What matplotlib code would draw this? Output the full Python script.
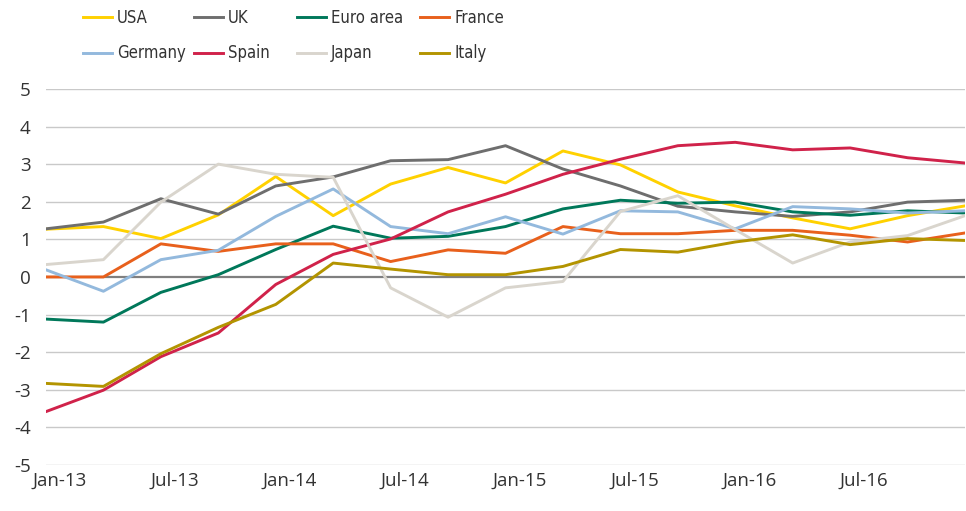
import numpy as np
import matplotlib
matplotlib.use("Agg")
from matplotlib import pyplot as plt
from matplotlib import transforms
from matplotlib import font_manager

plt.rcParams['font.family'] = ['Open Sans', 'DejaVu Sans']
plt.rcParams['axes.unicode_minus'] = False

# quarterly, Jan-13 .. Jan-17
quarters = ["Jan-13", "Apr-13", "Jul-13", "Oct-13", "Jan-14", "Apr-14", "Jul-14", "Oct-14",
            "Jan-15", "Apr-15", "Jul-15", "Oct-15", "Jan-16", "Apr-16", "Jul-16", "Oct-16", "Jan-17"]
tick_labels = ["Jan-13", "Jul-13", "Jan-14", "Jul-14", "Jan-15", "Jul-15", "Jan-16", "Jul-16"]

usa = [1.27, 1.34, 1.02, 1.65, 2.67, 1.63, 2.47, 2.91, 2.50, 3.35, 2.98, 2.26, 1.89, 1.57, 1.28, 1.63, 1.89]
uk = [1.28, 1.46, 2.08, 1.67, 2.42, 2.66, 3.09, 3.12, 3.49, 2.87, 2.42, 1.88, 1.73, 1.61, 1.73, 1.99, 2.04]
euro = [-1.12, -1.20, -0.41, 0.06, 0.73, 1.35, 1.03, 1.08, 1.34, 1.81, 2.04, 1.96, 1.99, 1.73, 1.64, 1.76, 1.70]
france = [0.0, 0.0, 0.88, 0.68, 0.88, 0.88, 0.41, 0.72, 0.63, 1.34, 1.15, 1.15, 1.24, 1.24, 1.11, 0.93, 1.17]
germany = [0.19, -0.38, 0.46, 0.71, 1.61, 2.34, 1.34, 1.15, 1.60, 1.14, 1.76, 1.73, 1.28, 1.87, 1.81, 1.70, 1.76]
spain = [-3.58, -3.01, -2.12, -1.49, -0.20, 0.60, 1.01, 1.73, 2.20, 2.73, 3.13, 3.49, 3.58, 3.38, 3.43, 3.17, 3.03]
japan = [0.33, 0.46, 1.99, 3.00, 2.73, 2.65, -0.29, -1.07, -0.29, -0.12, 1.74, 2.16, 1.26, 0.37, 0.93, 1.10, 1.63]
italy = [-2.83, -2.91, -2.04, -1.34, -0.73, 0.37, 0.21, 0.06, 0.06, 0.28, 0.73, 0.66, 0.93, 1.12, 0.86, 1.02, 0.97]

series = [("USA", usa, "#FFD100"), ("UK", uk, "#6E6E6E"), ("Euro area", euro, "#00785A"),
          ("France", france, "#E8601C"), ("Germany", germany, "#93B9DD"), ("Spain", spain, "#D0224A"),
          ("Japan", japan, "#D9D5CD"), ("Italy", italy, "#B39400")]

x = np.arange(len(quarters))

fig = plt.figure(figsize=(9.66, 5.11), dpi=100)
ax = fig.add_axes([0.0476, 0.090, 0.9514, 0.736])

for y in range(-5, 6):
    if y == 0:
        ax.axhline(0, color="#7F7F7F", lw=1.6, zorder=1)
    else:
        ax.axhline(y, color="#C9C9C9", lw=1.0, zorder=0)

lines = {}
for name, vals, col in series:
    lines[name], = ax.plot(x, vals, color=col, lw=2.1, label=name, zorder=2)

ax.set_xlim(0, len(quarters) - 1)
ax.set_ylim(-5, 5)
ax.set_yticks(range(-5, 6))
ax.set_xticks(x[::2][:len(tick_labels)])
ax.set_xticklabels(tick_labels)
for s in ax.spines.values():
    s.set_visible(False)
ax.tick_params(axis="both", length=0, labelsize=13.5, colors="#333333")
ax.tick_params(axis="y", pad=11)
ax.tick_params(axis="x", pad=5)
offset = transforms.ScaledTranslation(0.14, 0, fig.dpi_scale_trans)
for lab in ax.get_xticklabels():
    lab.set_transform(lab.get_transform() + offset)

# legend: one small legend per column, placed like the original (narrow text)
leg_font = font_manager.FontProperties(family="DejaVu Sans", stretch="condensed", size=12)
columns = [["USA", "Germany"], ["UK", "Spain"], ["Euro area", "Japan"], ["France", "Italy"]]
col_x = [83, 194, 297, 420]
for names, px in zip(columns, col_x):
    fig.legend([lines[n] for n in names], names, loc="upper left",
               bbox_to_anchor=(px / 966, 1 - 9 / 511), borderpad=0, borderaxespad=0,
               frameon=False, handlelength=1.75, handletextpad=0.3, labelspacing=1.05,
               labelcolor="#333333", prop=leg_font)

fig.savefig("out.png", dpi=100)
